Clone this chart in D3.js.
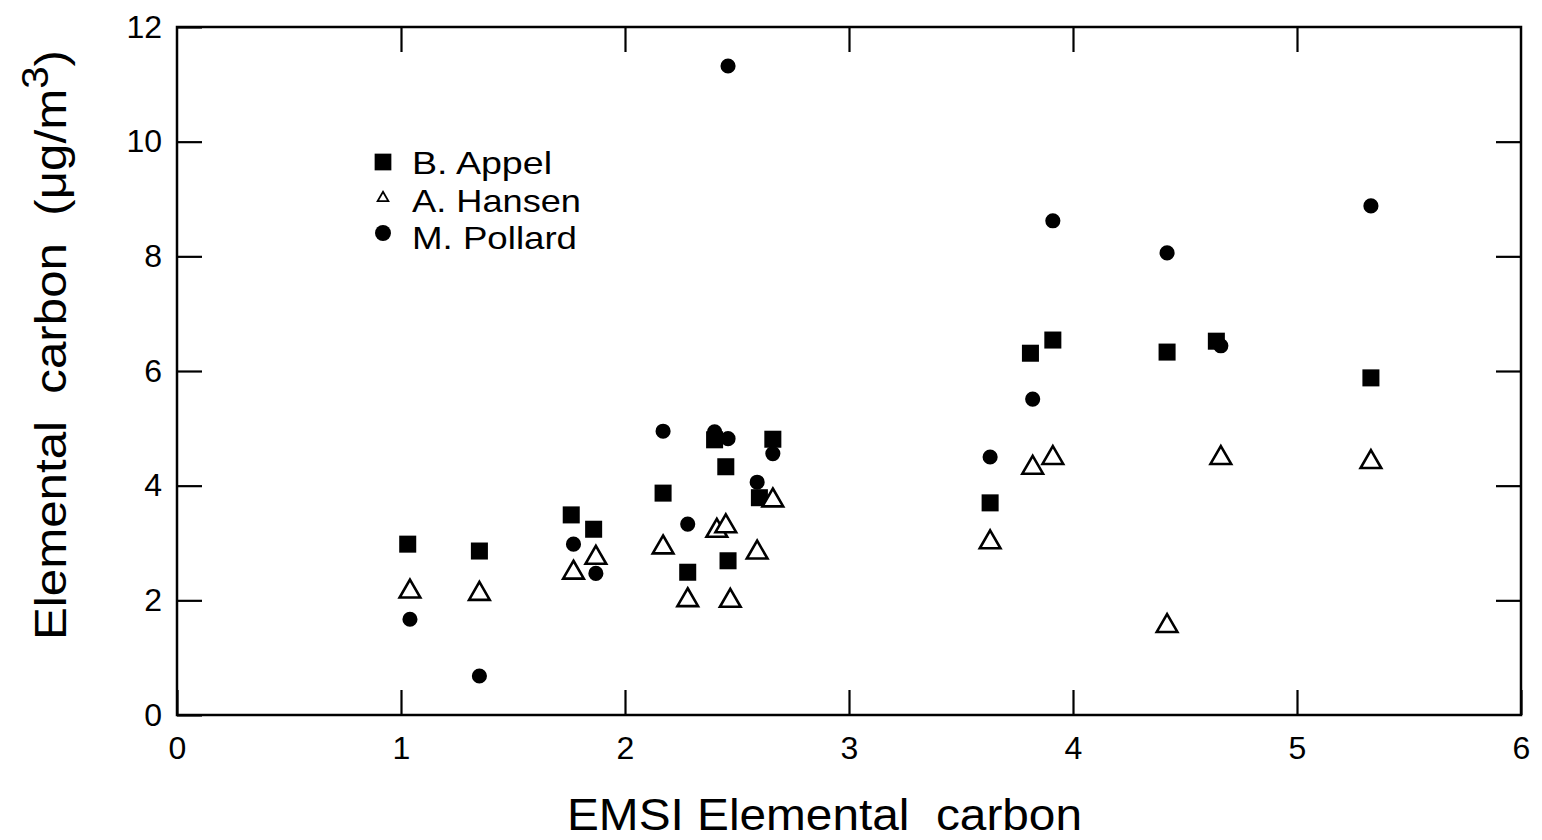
<!DOCTYPE html>
<html><head><meta charset="utf-8">
<script src="https://cdn.jsdelivr.net/npm/d3@7"></script>
<style>body{margin:0;background:#fff}svg{display:block}text{font-family:"Liberation Sans",Arial,Helvetica,sans-serif;fill:#000}</style>
</head><body><svg id="c" width="1542" height="840"></svg>
<script>
const xTicks = [0,1,2,3,4,5,6];
const yTicks = [0,2,4,6,8,10,12];
const seriesNames = ["B. Appel","A. Hansen","M. Pollard"];
const appelX = [1.03,1.35,1.76,1.86,2.17,2.28,2.40,2.45,2.46,2.60,2.66,3.63,3.81,3.91,4.42,4.64,5.33];
const appelY = [2.98,2.86,3.49,3.24,3.87,2.49,4.80,4.33,2.69,3.79,4.81,3.70,6.31,6.54,6.33,6.52,5.88];
const pollardX = [1.04,1.35,1.77,1.87,2.17,2.28,2.40,2.46,2.46,2.59,2.66,3.63,3.82,3.91,4.42,4.66,5.33];
const pollardY = [1.67,0.68,2.98,2.47,4.95,3.33,4.94,4.82,11.32,4.06,4.56,4.50,5.51,8.62,8.06,6.44,8.88];
const hansenX = [1.04,1.35,1.77,1.87,2.17,2.28,2.41,2.45,2.47,2.59,2.66,3.63,3.82,3.91,4.42,4.66,5.33];
const hansenY = [2.17,2.13,2.50,2.76,2.94,2.02,3.23,3.31,2.01,2.85,3.76,3.03,4.33,4.50,1.57,4.50,4.43];

const svg = d3.select("#c");
const L=177,R=1521,T=27,B=715;
const x = d3.scaleLinear().domain([0,6]).range([L,R]);
const y = d3.scaleLinear().domain([0,12]).range([B,T]);
const tl = 25;

function styleAxis(g){ g.select(".domain").remove(); g.selectAll("line").attr("stroke","#000").attr("stroke-width",2.2); }
svg.append("g").attr("transform",`translate(0,${B})`)
  .call(d3.axisBottom(x).tickValues(xTicks).tickSize(-tl).tickPadding(21).tickFormat(d3.format("d")))
  .call(styleAxis).call(g=>g.selectAll("text").attr("font-size",32).attr("font-family","Liberation Sans"));
svg.append("g").attr("transform",`translate(0,${T})`)
  .call(d3.axisTop(x).tickValues(xTicks.slice(1,-1)).tickSize(-tl).tickFormat(""))
  .call(styleAxis);
svg.append("g").attr("transform",`translate(${L},0)`)
  .call(d3.axisLeft(y).tickValues(yTicks).tickSize(-tl).tickPadding(15).tickFormat(d3.format("d")))
  .call(styleAxis).call(g=>g.selectAll("text").attr("font-size",32).attr("font-family","Liberation Sans"));
svg.append("g").attr("transform",`translate(${R},0)`)
  .call(d3.axisRight(y).tickValues(yTicks.slice(1,-1)).tickSize(-tl).tickFormat(""))
  .call(styleAxis);
svg.append("rect").attr("x",L).attr("y",T).attr("width",R-L).attr("height",B-T)
  .attr("fill","none").attr("stroke","#000").attr("stroke-width",2.5);

const sq = d3.symbol().type(d3.symbolSquare).size(290);
const ci = d3.symbol().type(d3.symbolCircle).size(180);
const tr = d3.symbol().type(d3.symbolTriangle).size(185);

svg.append("g").selectAll("path").data(d3.zip(appelX,appelY)).join("path")
  .attr("d",sq).attr("transform",d=>`translate(${x(d[0])},${y(d[1])})`).attr("fill","#000");
svg.append("g").selectAll("path").data(d3.zip(pollardX,pollardY)).join("path")
  .attr("d",ci).attr("transform",d=>`translate(${x(d[0])},${y(d[1])})`).attr("fill","#000");
svg.append("g").selectAll("path").data(d3.zip(hansenX,hansenY)).join("path")
  .attr("d",tr).attr("transform",d=>`translate(${x(d[0])},${y(d[1])+1})`)
  .attr("fill","#fff").attr("stroke","#000").attr("stroke-width",2.6);

// legend
const lg = svg.append("g");
const legSym = [d3.symbol().type(d3.symbolSquare).size(280), d3.symbol().type(d3.symbolTriangle).size(50), d3.symbol().type(d3.symbolCircle).size(200)];
const legW = [140,169,165];
const legY = [162,200,237];
const symY = [162,198,233];
seriesNames.forEach((n,i)=>{
  lg.append("path").attr("d",legSym[i]).attr("transform",`translate(383,${symY[i]})`)
    .attr("fill", i===1?"#fff":"#000").attr("stroke", i===1?"#000":"none").attr("stroke-width",1.8);
  lg.append("text").attr("x",412).attr("y",legY[i]).attr("dy","0.36em").attr("font-size",32)
    .attr("textLength",legW[i]).attr("lengthAdjust","spacingAndGlyphs").text(n);
});

// axis titles
svg.append("text").attr("x",567).attr("y",830).attr("font-size",44)
  .attr("textLength",515).attr("lengthAdjust","spacingAndGlyphs")
  .text("EMSI Elemental\u00a0 carbon");
const yt = svg.append("text").attr("transform","translate(66,640) rotate(-90)").attr("font-size",44)
  .attr("textLength",590).attr("lengthAdjust","spacingAndGlyphs");
yt.append("tspan").text("Elemental\u00a0 carbon\u00a0 (\u03bcg/m");
yt.append("tspan").attr("dy",-18).attr("font-size",36).text("3");
yt.append("tspan").attr("dy",18).text(")");
</script></body></html>
